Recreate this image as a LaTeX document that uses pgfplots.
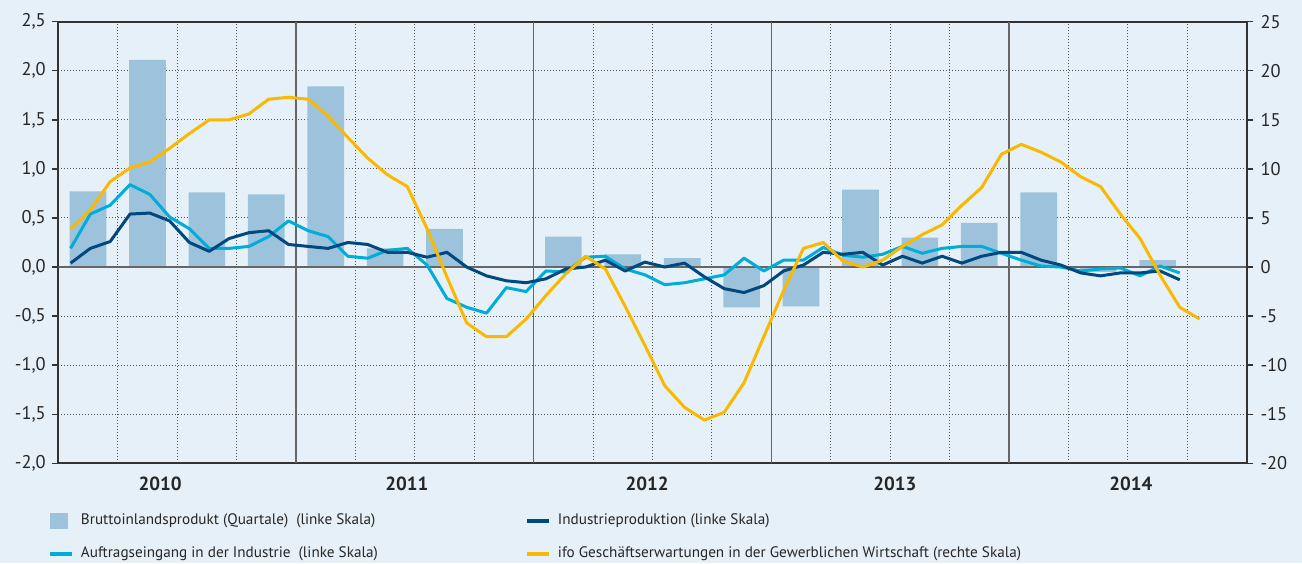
\documentclass[border=0pt]{standalone}
\usepackage{fontspec}
\setmainfont{PT Sans}
\usepackage{pgfplots}
\usepackage{pgfplotstable}
\pgfplotsset{compat=1.18}
\definecolor{bg}{RGB}{229,240,248}
\definecolor{barc}{RGB}{157,195,220}
\definecolor{aufc}{RGB}{0,172,216}
\definecolor{indc}{RGB}{0,72,126}
\definecolor{ifoc}{RGB}{250,185,0}
\definecolor{gridc}{RGB}{85,85,85}

\pgfplotstableread{
x bip
1.5 0.77
4.5 2.11
7.5 0.76
10.5 0.74
13.5 1.84
16.5 0.19
19.5 0.39
22.5 0.00
25.5 0.31
28.5 0.13
31.5 0.09
34.5 -0.41
37.5 -0.40
40.5 0.79
43.5 0.30
46.5 0.45
49.5 0.76
52.5 -0.05
55.5 0.07
}\bars

\pgfplotstableread{
x auf ind ifo
0.62 0.19 0.04 3.9
1.62 0.54 0.19 5.8
2.62 0.63 0.26 8.7
3.62 0.84 0.54 10.1
4.62 0.74 0.55 10.7
5.62 0.51 0.47 12.1
6.62 0.39 0.25 13.6
7.62 0.19 0.16 15.0
8.62 0.19 0.29 15.0
9.62 0.21 0.35 15.6
10.62 0.31 0.37 17.1
11.62 0.47 0.23 17.3
12.62 0.37 0.21 17.1
13.62 0.31 0.19 15.4
14.62 0.11 0.25 13.2
15.62 0.09 0.23 11.1
16.62 0.17 0.15 9.4
17.62 0.19 0.15 8.2
18.62 0.02 0.10 3.9
19.62 -0.32 0.15 -1.0
20.62 -0.41 0.00 -5.7
21.62 -0.47 -0.09 -7.1
22.62 -0.21 -0.14 -7.1
23.62 -0.25 -0.16 -5.3
24.62 -0.04 -0.12 -2.9
25.62 -0.05 -0.02 -0.7
26.62 0.10 0.00 1.1
27.62 0.11 0.07 -0.2
28.62 -0.02 -0.04 -4.0
29.62 -0.08 0.05 -8.0
30.62 -0.18 0.00 -12.1
31.62 -0.16 0.04 -14.3
32.62 -0.12 -0.10 -15.6
33.62 -0.08 -0.22 -14.8
34.62 0.09 -0.26 -11.8
35.62 -0.04 -0.19 -7.1
36.62 0.07 -0.04 -2.4
37.62 0.07 0.02 1.9
38.62 0.20 0.15 2.5
39.62 0.12 0.13 0.6
40.62 0.10 0.15 0.0
41.62 0.13 0.02 0.7
42.62 0.21 0.11 2.1
43.62 0.14 0.04 3.3
44.62 0.19 0.11 4.3
45.62 0.21 0.04 6.3
46.62 0.21 0.11 8.1
47.62 0.14 0.15 11.5
48.62 0.07 0.15 12.5
49.62 0.01 0.07 11.7
50.62 0.00 0.02 10.7
51.62 -0.04 -0.06 9.2
52.62 -0.02 -0.09 8.2
53.62 -0.01 -0.06 5.4
54.62 -0.09 -0.06 2.9
55.62 0.01 -0.04 -0.8
56.62 -0.06 -0.13 -4.1
57.62 nan nan -5.3
}\lines

\pgfplotsset{
  base/.style={
    at={(29.15pt,49.85pt)}, anchor=south west,
    scale only axis, width=594.2pt, height=220.8pt,
    xmin=0, xmax=60,
    tick align=outside, major tick length=3.3pt, minor tick length=0pt,
    yticklabel style={font=\fontsize{9.2}{11}\selectfont, color=black!85, inner sep=0pt,
      /pgf/number format/assume math mode=true},
  }
}

\begin{document}
\begin{tikzpicture}
\path[use as bounding box, fill=bg] (0,0) rectangle (651pt,281.5pt);
\begin{axis}[base,
  ymin=-2, ymax=2.5,
  ytick={-2,-1.5,-1,-0.5,0,0.5,1,1.5,2,2.5},
  ytick pos=left,
  yticklabel style={xshift=-2.8pt,
    /pgf/number format/.cd, fixed, fixed zerofill, precision=1, use comma},
  xtick={5.14,17.6,29.73,42.24,54.15},
  xticklabels={2010,2011,2012,2013,2014},
  xtick style={draw=none},
  xticklabel style={font=\bfseries\fontsize{9.5}{11}\selectfont, color=black!85, inner sep=0pt, yshift=-3.2pt},
  minor xtick={3,6,9,15,18,21,27,30,33,39,42,45,51,54,57},
  xminorgrids, ymajorgrids,
  major grid style={gridc, line width=0.5pt, dash pattern=on 0.5pt off 1pt},
  minor grid style={gridc, line width=0.5pt, dash pattern=on 0.5pt off 1pt},
  axis line style={black!80, line width=0.9pt},
  ytick style={black!80, line width=0.7pt},
]
\addplot[ybar, bar width=1.85, fill=barc, draw=none] table[x=x, y=bip] {\bars};
\draw[black!60, line width=0.7pt] (axis cs:0,0) -- (axis cs:60,0);
\pgfplotsinvokeforeach{12,24,36,48}{
  \draw[black!60, line width=0.6pt] (axis cs:#1,-2) -- (axis cs:#1,2.5);
}
\addplot[aufc, line width=1.5pt, line join=round] table[x=x, y=auf] {\lines};
\addplot[indc, line width=1.5pt, line join=round] table[x=x, y=ind] {\lines};
\end{axis}

\begin{axis}[base,
  ymin=-20, ymax=25,
  ytick={-20,-15,-10,-5,0,5,10,15,20,25},
  axis y line*=right, axis x line=none,
  yticklabel style={xshift=3.4pt},
  axis line style={black!80, line width=0.9pt},
  ytick style={black!80, line width=0.7pt},
  legend columns=2,
  legend cell align=left,
  legend style={at={(-0.0087,-0.1128)}, anchor=north west, draw=none, fill=none,
    inner sep=0pt, outer sep=0pt, row sep=9pt,
    font=\fontsize{7.6}{9}\selectfont, text=black!85,
    nodes={inner sep=0pt, outer sep=0pt},
    /tikz/every odd column/.append style={column sep=3.5pt}},
]
\addlegendimage{legend image code/.code={\fill[barc] (0pt,-3.75pt) rectangle (8.5pt,3.75pt);}}
\addlegendentry{\makebox[222pt][l]{Bruttoinlandsprodukt (Quartale)\ \ (linke Skala)}}
\addlegendimage{legend image code/.code={\draw[indc, line width=2pt] (0pt,0pt) -- (11pt,0pt);}}
\addlegendentry{Industrieproduktion (linke Skala)}
\addlegendimage{legend image code/.code={\draw[aufc, line width=2pt] (0pt,0pt) -- (11pt,0pt);}}
\addlegendentry{\makebox[222pt][l]{Auftragseingang in der Industrie\ \ (linke Skala)}}
\addplot[ifoc, line width=1.5pt, line join=round,
  legend image code/.code={\draw[ifoc, line width=2pt] (0pt,0pt) -- (11pt,0pt);}]
  table[x=x, y=ifo] {\lines};
\addlegendentry{ifo Geschäftserwartungen in der Gewerblichen Wirtschaft (rechte Skala)}
\end{axis}
\end{tikzpicture}
\end{document}
